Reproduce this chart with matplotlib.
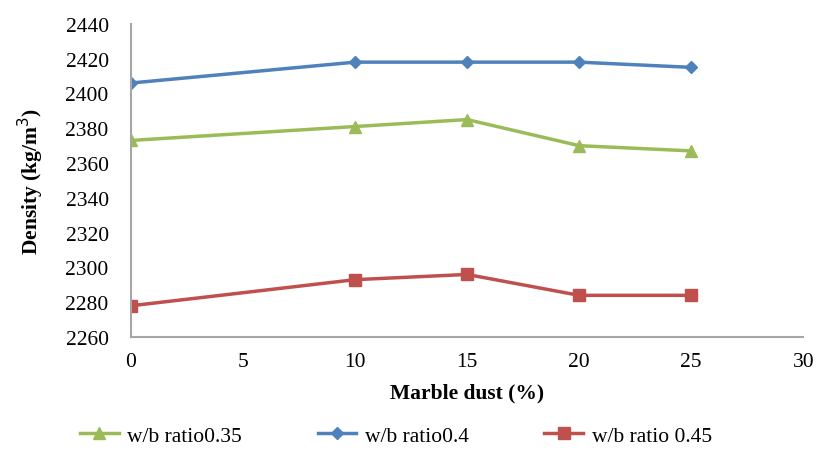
import numpy as np
import matplotlib.pyplot as plt

plt.rcParams['font.family'] = ['Liberation Serif', 'DejaVu Serif']

# marble dust replacement (%)
marble_dust = [0, 10, 15, 20, 25]

# density (kg/m3) for each w/b ratio
density_035 = [2373, 2381, 2385, 2370, 2367]
density_040 = [2406, 2418, 2418, 2418, 2415]
density_045 = [2278, 2293, 2296, 2284, 2284]

x_ticks = [0, 5, 10, 15, 20, 25, 30]
y_ticks = np.arange(2260, 2441, 20)

fig = plt.figure(figsize=(8.18, 4.52), dpi=100)
ax = fig.add_axes([0.160, 0.252, 0.822, 0.693])

ax.plot(marble_dust, density_035, color='#9BBB59', lw=2.5, marker='^', ms=8,
        label='w/b ratio0.35')
ax.plot(marble_dust, density_040, color='#4F81BD', lw=2.5, marker='D', ms=6,
        label='w/b ratio0.4')
ax.plot(marble_dust, density_045, color='#C0504D', lw=2.5, marker='s', ms=8,
        label='w/b ratio 0.45')

ax.set_xlim(0, 30)
ax.set_ylim(2260, 2440)
ax.set_xticks(x_ticks)
ax.set_yticks(y_ticks)
ax.tick_params(length=0, labelsize=15.5)
ax.tick_params(axis='y', pad=16)
ax.tick_params(axis='x', pad=11)

for s in ['top', 'right']:
    ax.spines[s].set_visible(False)
for s in ['left', 'bottom']:
    ax.spines[s].set_color('#A6A6A6')
    ax.spines[s].set_linewidth(1.5)

ax.set_xlabel('Marble dust (%)', fontsize=15.5, fontweight='bold', labelpad=8)
ax.set_ylabel('Density (kg/m$^3$)', fontsize=15.5, fontweight='bold', labelpad=14)

fig.legend(loc='center', bbox_to_anchor=(0.484, 0.034), ncol=3, frameon=False,
           fontsize=15.5, columnspacing=3.5, handlelength=1.8, handletextpad=0.4)

fig.savefig('out.png', dpi=100)
